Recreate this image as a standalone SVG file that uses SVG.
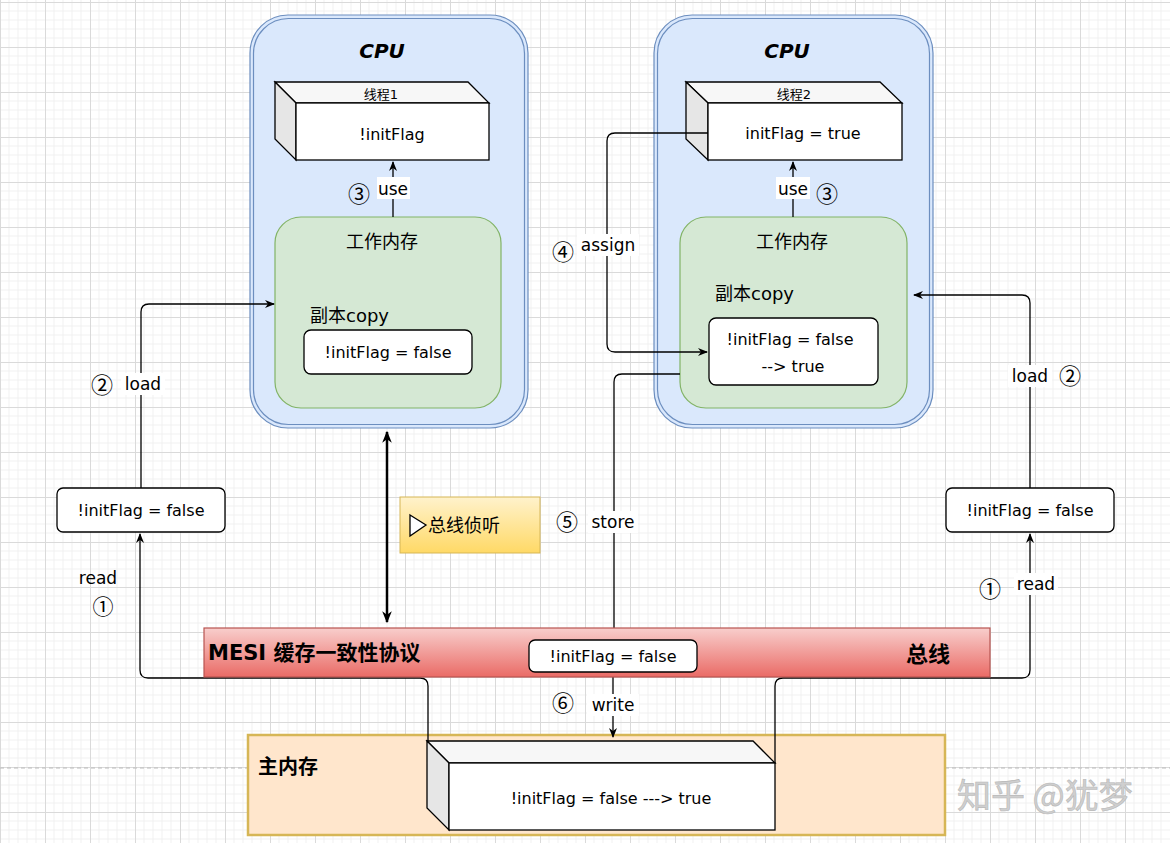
<svg xmlns="http://www.w3.org/2000/svg" width="1170" height="843" viewBox="0 0 1170 843">
<defs>
  <pattern id="grid" x="0" y="2" width="45" height="45" patternUnits="userSpaceOnUse">
    <rect width="45" height="45" fill="#ffffff"/>
    <path d="M9 0V45M18 0V45M27 0V45M36 0V45M0 9H45M0 18H45M0 27H45M0 36H45" stroke="#f1f1f1" stroke-width="1" fill="none"/>
    <path d="M0.5 0V45M0 0.5H45" stroke="#dadada" stroke-width="1" fill="none"/>
  </pattern>
  <linearGradient id="busGrad" x1="0" y1="0" x2="0" y2="1">
    <stop offset="0" stop-color="#f8cecc"/>
    <stop offset="1" stop-color="#ea6b66"/>
  </linearGradient>
  <linearGradient id="noteGrad" x1="0" y1="0" x2="0" y2="1">
    <stop offset="0" stop-color="#fff2cc"/>
    <stop offset="1" stop-color="#ffd966"/>
  </linearGradient>
  <marker id="arr" viewBox="0 0 10 10" refX="9" refY="5" markerWidth="10" markerHeight="10" markerUnits="userSpaceOnUse" orient="auto">
    <path d="M0 1 L10 5 L0 9 L3 5 Z" fill="#000"/>
  </marker>
  <marker id="arrB" viewBox="0 0 10 10" refX="9" refY="5" markerWidth="12" markerHeight="12" markerUnits="userSpaceOnUse" orient="auto-start-reverse">
    <path d="M0 1 L10 5 L0 9 L3 5 Z" fill="#000"/>
  </marker>
  <style>
    text{font-family:"DejaVu Sans","Noto Sans CJK SC",sans-serif;fill:#000;}
    .t16{font-size:16px;text-anchor:middle;}
    .t13{font-size:13px;text-anchor:middle;}
    .lbl{font-size:17px;}
    .num{font-size:22px;text-anchor:middle;font-family:"Noto Sans CJK SC","DejaVu Sans",sans-serif;}
    .bold{font-weight:bold;}
    .cpu{fill:#dae8fc;stroke:#6c8ebf;stroke-width:1.2;}
    .cpuin{fill:none;stroke:#6c8ebf;stroke-width:1.2;}
    .wm{fill:#d5e8d4;stroke:#82b366;stroke-width:1.2;}
    .box{fill:#ffffff;stroke:#000;stroke-width:1.3;}
    .side{fill:#e6e6e6;stroke:#000;stroke-width:1.3;}
    .top{fill:#f7f7f7;stroke:#000;stroke-width:1.3;}
    .line{fill:none;stroke:#000;stroke-width:1.3;}
    .bg{fill:#ffffff;}
  </style>
</defs>

<rect width="1170" height="843" fill="url(#grid)"/>
<line x1="0" y1="768" x2="1170" y2="768" stroke="#bbbbbb" stroke-width="1" stroke-dasharray="4 3"/>

<!-- CPU 1 -->
<g id="cpu1">
  <rect class="cpu" x="250" y="15" width="278" height="413" rx="38"/>
  <rect class="cpuin" x="253.5" y="18.5" width="271" height="406" rx="35"/>
  <text x="382" y="58" class="bold" style="font-size:20px;text-anchor:middle;font-style:italic">CPU</text>
</g>
<g id="thread1">
  <polygon class="top" points="275,82 468,82 489,103 296,103"/>
  <polygon class="side" points="275,82 296,103 296,160 275,139"/>
  <rect class="box" x="296" y="103" width="193" height="57"/>
  <text x="381" y="99" class="t13">线程1</text>
  <text x="392" y="140" class="t16">!initFlag</text>
</g>
<g id="wm1">
  <rect class="wm" x="275" y="217" width="226" height="191" rx="26"/>
  <text x="382" y="248" style="font-size:18px;text-anchor:middle">工作内存</text>
  <text x="310" y="322" style="font-size:18px">副本copy</text>
</g>
<g id="copy1">
  <rect class="box" x="304" y="330" width="168" height="44" rx="7"/>
  <text x="388" y="358" class="t16">!initFlag = false</text>
</g>

<!-- CPU 2 -->
<g id="cpu2">
  <rect class="cpu" x="654" y="15" width="279" height="413" rx="38"/>
  <rect class="cpuin" x="657.5" y="18.5" width="272" height="406" rx="35"/>
  <text x="787" y="58" class="bold" style="font-size:20px;text-anchor:middle;font-style:italic">CPU</text>
</g>
<g id="thread2">
  <polygon class="top" points="686,82 880,82 902,103 708,103"/>
  <polygon class="side" points="686,82 708,103 708,160 686,139"/>
  <rect class="box" x="708" y="103" width="194" height="57"/>
  <text x="794" y="99" class="t13">线程2</text>
  <text x="803" y="139" class="t16">initFlag = true</text>
</g>
<g id="wm2">
  <rect class="wm" x="680" y="217" width="227" height="191" rx="26"/>
  <text x="792" y="248" style="font-size:18px;text-anchor:middle">工作内存</text>
  <text x="715" y="300" style="font-size:18px">副本copy</text>
</g>
<g id="copy2">
  <rect class="box" x="709" y="318" width="169" height="67" rx="7"/>
  <text x="790" y="345" class="t16">!initFlag = false</text>
  <text x="793" y="372" class="t16">--&gt; true</text>
</g>

<!-- side value boxes -->
<g id="val-left">
  <rect class="box" x="57" y="488" width="168" height="44" rx="6"/>
  <text x="141" y="516" class="t16">!initFlag = false</text>
</g>
<g id="val-right">
  <rect class="box" x="946" y="488" width="168" height="44" rx="6"/>
  <text x="1030" y="516" class="t16">!initFlag = false</text>
</g>

<!-- bus snoop note -->
<g id="snoop">
  <rect x="400" y="497" width="140" height="56" fill="url(#noteGrad)" stroke="#d6b656" stroke-width="1"/>
  <polygon points="410,515 426,525 410,536" fill="#ffffff" stroke="#000" stroke-width="1.3"/>
  <text x="428" y="532" style="font-size:18px">总线侦听</text>
</g>

<!-- main memory -->
<g id="mainmem">
  <rect x="248" y="735" width="697" height="100" fill="#ffe6cc" stroke="#d6b656" stroke-width="2.5"/>
  <text x="258" y="774" class="bold" style="font-size:20px">主内存</text>
</g>
<g id="memcube">
  <polygon class="top" points="427,741 753,741 775,763 449,763"/>
  <polygon class="side" points="427,741 449,763 449,830 427,808"/>
  <rect class="box" x="449" y="763" width="326" height="67"/>
  <text x="611" y="804" class="t16">!initFlag = false ---&gt; true</text>
</g>

<!-- connectors -->
<g id="connectors">
  <line class="line" x1="393" y1="217" x2="393" y2="162" marker-end="url(#arr)"/>
  <line class="line" x1="793" y1="217" x2="793" y2="162" marker-end="url(#arr)"/>
  <path class="line" d="M141 488 V312 Q141 304 149 304 H274" marker-end="url(#arr)"/>
  <path class="line" d="M428 741 V686 Q428 678 420 678 H148 Q140 678 140 670 V534" marker-end="url(#arr)"/>
  <path class="line" d="M1030 488 V303 Q1030 295 1022 295 H914" marker-end="url(#arr)"/>
  <path class="line" d="M775 763 V686 Q775 678 783 678 H1022 Q1030 678 1030 670 V534" marker-end="url(#arr)"/>
  <path class="line" d="M708 133 H615 Q607 133 607 141 V344 Q607 352 615 352 H707" marker-end="url(#arr)"/>
  <path class="line" d="M680 374 H622 Q614 374 614 382 V639" marker-end="url(#arr)"/>
  <line class="line" x1="613" y1="672" x2="613" y2="737" marker-end="url(#arr)"/>
  <line x1="387" y1="432" x2="387" y2="622" stroke="#000" stroke-width="2.5" marker-start="url(#arrB)" marker-end="url(#arrB)"/>
</g>

<!-- bus -->
<g id="bus">
  <rect x="204" y="628" width="786" height="49" fill="url(#busGrad)" stroke="#b85450" stroke-width="1.2"/>
  <text x="208" y="660" class="bold" style="font-size:21px">MESI 缓存一致性协议</text>
  <text x="928" y="662" class="bold" style="font-size:22px;text-anchor:middle">总线</text>
</g>
<g id="busval">
  <rect class="box" x="529" y="640" width="168" height="32" rx="6"/>
  <text x="613" y="662" class="t16">!initFlag = false</text>
</g>

<!-- connector labels -->
<g id="labels">
  <rect class="bg" x="377" y="177" width="33" height="22"/>
  <text x="393" y="195" class="lbl" text-anchor="middle">use</text>
  <text x="359" y="202" class="num">③</text>

  <rect class="bg" x="776" y="177" width="34" height="22"/>
  <text x="793" y="195" class="lbl" text-anchor="middle">use</text>
  <text x="827" y="202" class="num">③</text>

  <rect class="bg" x="577" y="234" width="62" height="22"/>
  <text x="608" y="251" class="lbl" text-anchor="middle">assign</text>
  <text x="563" y="260" class="num">④</text>

  <rect class="bg" x="121" y="373" width="44" height="22"/>
  <text x="143" y="390" class="lbl" text-anchor="middle">load</text>
  <text x="102" y="393" class="num">②</text>

  <text x="98" y="584" class="lbl" text-anchor="middle">read</text>
  <text x="103" y="614" class="num" style="font-size:21px">①</text>

  <rect class="bg" x="1008" y="365" width="44" height="22"/>
  <text x="1030" y="382" class="lbl" text-anchor="middle">load</text>
  <text x="1070" y="384" class="num">②</text>

  <rect class="bg" x="1014" y="573" width="44" height="22"/>
  <text x="1036" y="590" class="lbl" text-anchor="middle">read</text>
  <text x="990" y="597" class="num">①</text>

  <rect class="bg" x="588" y="511" width="50" height="22"/>
  <text x="613" y="528" class="lbl" text-anchor="middle">store</text>
  <text x="567" y="530" class="num">⑤</text>

  <rect class="bg" x="587" y="694" width="52" height="22"/>
  <text x="613" y="711" class="lbl" text-anchor="middle">write</text>
  <text x="563" y="711" class="num">⑥</text>
</g>

<text x="957" y="808" style="font-size:34px;fill:#cfcfcf;stroke:#b8b8b8;stroke-width:0.6;font-family:'Noto Sans CJK SC',sans-serif">知乎 @犹梦</text>
</svg>
